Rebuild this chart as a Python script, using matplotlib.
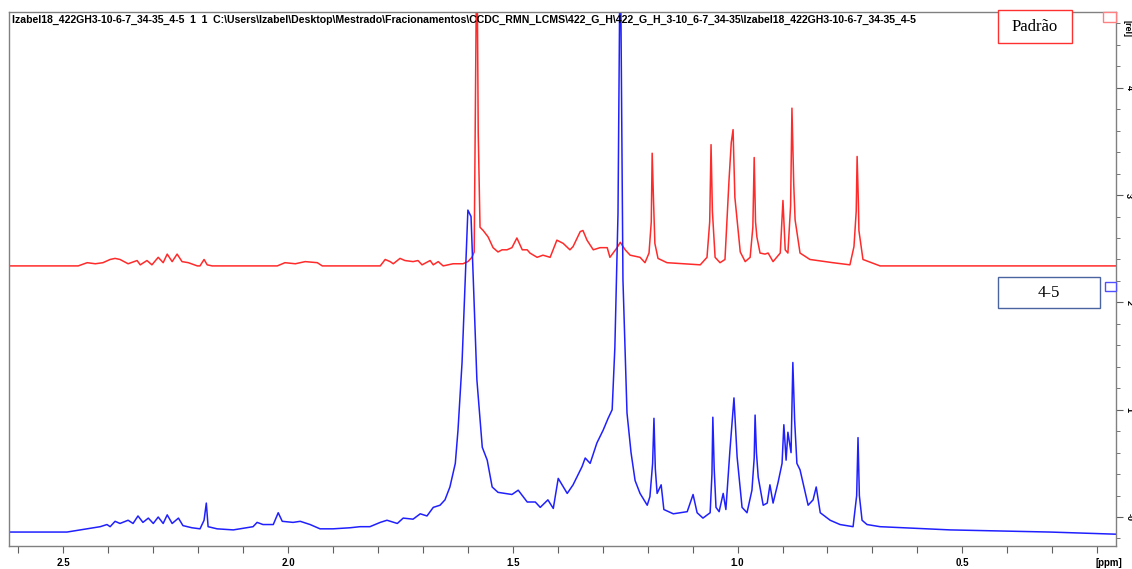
import matplotlib.pyplot as plt
import numpy as np
from matplotlib.patches import Rectangle

# Padrão (red, upper trace) - chemical shift (ppm) / relative intensity
red_ppm = [2.621, 2.467, 2.447, 2.429, 2.412, 2.396, 2.385, 2.374, 2.356, 2.336,
           2.329, 2.314, 2.303, 2.289, 2.278, 2.269, 2.258, 2.247, 2.236, 2.222,
           2.202, 2.196, 2.187, 2.180, 2.169, 2.024, 2.007, 1.984, 1.962, 1.935,
           1.924, 1.795, 1.784, 1.773, 1.766, 1.751, 1.740, 1.722, 1.711, 1.702,
           1.684, 1.677, 1.666, 1.655, 1.633, 1.611, 1.600, 1.591, 1.586, 1.580,
           1.577, 1.573, 1.566, 1.555, 1.544, 1.533, 1.524, 1.513, 1.502, 1.491,
           1.479, 1.468, 1.462, 1.446, 1.433, 1.417, 1.402, 1.388, 1.373, 1.366,
           1.350, 1.344, 1.335, 1.321, 1.306, 1.290, 1.284, 1.268, 1.261, 1.250,
           1.239, 1.228, 1.217, 1.206, 1.197, 1.192, 1.190, 1.187, 1.184, 1.177,
           1.157, 1.083, 1.068, 1.062, 1.059, 1.056, 1.050, 1.039, 1.028, 1.019,
           1.014, 1.010, 1.006, 0.994, 0.983, 0.972, 0.966, 0.963, 0.960, 0.957,
           0.950, 0.939, 0.932, 0.921, 0.905, 0.899, 0.894, 0.888, 0.882, 0.879,
           0.875, 0.872, 0.861, 0.839, 0.788, 0.750, 0.741, 0.736, 0.734, 0.731,
           0.730, 0.721, 0.683, 0.158]
red_rel = [2.34, 2.34, 2.37, 2.36, 2.37, 2.40, 2.41, 2.40, 2.36, 2.39,
           2.35, 2.39, 2.35, 2.42, 2.37, 2.45, 2.38, 2.45, 2.38, 2.37,
           2.34, 2.34, 2.40, 2.35, 2.34, 2.34, 2.37, 2.36, 2.38, 2.37,
           2.34, 2.34, 2.40, 2.38, 2.36, 2.41, 2.39, 2.38, 2.39, 2.35,
           2.39, 2.35, 2.38, 2.34, 2.36, 2.36, 2.38, 2.42, 2.47, 5.50,
           3.58, 2.70, 2.67, 2.61, 2.51, 2.47, 2.49, 2.49, 2.51, 2.60,
           2.49, 2.49, 2.46, 2.42, 2.44, 2.42, 2.58, 2.55, 2.49, 2.52,
           2.66, 2.67, 2.58, 2.49, 2.51, 2.51, 2.42, 2.51, 2.56, 2.49,
           2.44, 2.43, 2.42, 2.37, 2.46, 2.75, 3.39, 2.95, 2.55, 2.41,
           2.37, 2.35, 2.42, 2.75, 3.47, 2.85, 2.42, 2.37, 2.40, 3.14,
           3.49, 3.61, 2.98, 2.47, 2.38, 2.42, 2.70, 3.35, 2.75, 2.61,
           2.46, 2.45, 2.46, 2.38, 2.46, 2.95, 2.49, 2.46, 2.90, 3.81,
           3.10, 2.77, 2.46, 2.40, 2.37, 2.35, 2.52, 2.85, 3.36, 2.90,
           2.67, 2.40, 2.34, 2.34]

# 4-5 fraction (blue, lower trace)
blue_ppm = [2.621, 2.492, 2.463, 2.418, 2.403, 2.396, 2.385, 2.374, 2.356, 2.345,
            2.334, 2.323, 2.311, 2.300, 2.289, 2.278, 2.269, 2.258, 2.244, 2.234,
            2.214, 2.196, 2.187, 2.182, 2.178, 2.158, 2.122, 2.078, 2.069, 2.056,
            2.033, 2.022, 2.013, 1.989, 1.973, 1.951, 1.929, 1.900, 1.862, 1.840,
            1.818, 1.795, 1.780, 1.757, 1.744, 1.722, 1.706, 1.691, 1.677, 1.662,
            1.651, 1.640, 1.628, 1.622, 1.613, 1.606, 1.600, 1.593, 1.588, 1.580,
            1.568, 1.557, 1.546, 1.533, 1.517, 1.502, 1.488, 1.468, 1.450, 1.439,
            1.422, 1.410, 1.399, 1.379, 1.366, 1.346, 1.339, 1.328, 1.313, 1.299,
            1.288, 1.279, 1.273, 1.266, 1.261, 1.255, 1.246, 1.237, 1.228, 1.217,
            1.201, 1.195, 1.189, 1.186, 1.183, 1.179, 1.170, 1.164, 1.143, 1.112,
            1.099, 1.090, 1.077, 1.061, 1.057, 1.055, 1.052, 1.048, 1.041, 1.032,
            1.026, 1.017, 1.010, 1.008, 1.001, 0.990, 0.979, 0.968, 0.963, 0.961,
            0.958, 0.954, 0.943, 0.934, 0.928, 0.921, 0.910, 0.901, 0.897, 0.892,
            0.888, 0.881, 0.877, 0.873, 0.868, 0.861, 0.843, 0.832, 0.825, 0.816,
            0.794, 0.772, 0.743, 0.735, 0.732, 0.729, 0.723, 0.712, 0.683, 0.527,
            0.305, 0.158]
blue_rel = [-0.14, -0.14, -0.12, -0.09, -0.07, -0.09, -0.04, -0.06, -0.03, -0.06,
            0.01, -0.05, -0.01, -0.06, 0.00, -0.06, 0.02, -0.06, -0.01, -0.08,
            -0.10, -0.11, -0.03, 0.13, -0.09, -0.11, -0.12, -0.09, -0.05, -0.07,
            -0.07, 0.04, -0.04, -0.05, -0.04, -0.07, -0.11, -0.11, -0.10, -0.09,
            -0.09, -0.05, -0.03, -0.06, -0.01, -0.02, 0.03, 0.01, 0.09, 0.11,
            0.16, 0.28, 0.50, 0.81, 1.44, 2.21, 2.86, 2.80, 2.21, 1.28,
            0.65, 0.53, 0.28, 0.23, 0.22, 0.21, 0.25, 0.14, 0.14, 0.09,
            0.16, 0.08, 0.36, 0.22, 0.30, 0.47, 0.55, 0.50, 0.69, 0.81,
            0.92, 1.00, 1.58, 2.83, 5.50, 2.21, 0.97, 0.60, 0.34, 0.22,
            0.11, 0.19, 0.50, 0.92, 0.45, 0.22, 0.30, 0.07, 0.03, 0.05,
            0.21, 0.04, -0.01, 0.04, 0.40, 0.93, 0.45, 0.09, 0.05, 0.22,
            0.07, 0.62, 1.00, 1.11, 0.56, 0.09, 0.04, 0.25, 0.55, 0.95,
            0.60, 0.37, 0.11, 0.13, 0.30, 0.13, 0.32, 0.50, 0.86, 0.53,
            0.79, 0.60, 1.44, 0.90, 0.50, 0.44, 0.11, 0.16, 0.28, 0.04,
            -0.03, -0.07, -0.09, 0.20, 0.74, 0.20, -0.03, -0.07, -0.09, -0.12,
            -0.14, -0.16]

x_labels = {2.5: "2.5", 2.0: "2.0", 1.5: "1.5", 1.0: "1.0", 0.5: "0.5"}
y_major = [0, 1, 2, 3, 4]
y_labels = ["-0", "1", "2", "3", "4"]

title = (r"Izabel18_422GH3-10-6-7_34-35_4-5  1  1  C:\Users\Izabel\Desktop\Mestrado"
         r"\Fracionamentos\CCDC_RMN_LCMS\422_G_H\422_G_H_3-10_6-7_34-35"
         r"\Izabel18_422GH3-10-6-7_34-35_4-5")

W, H = 1132, 569
fig = plt.figure(figsize=(W / 100, H / 100), dpi=100)
ax = fig.add_axes([9 / W, 1 - 546 / H, 1107 / W, 534 / H])

ax.plot(red_ppm, red_rel, color="#ff2a2a", lw=1.1)
ax.plot(blue_ppm, blue_rel, color="#2020ff", lw=1.1)
ax.set_xlim(2.621, 0.158)
ax.set_ylim(-0.27, 4.706)

for s in ax.spines.values():
    s.set_color("#808080")
    s.set_linewidth(1.0)

xt = np.round(np.arange(0.2, 2.65, 0.1), 1)
ax.set_xticks(xt, [x_labels.get(v, "") for v in xt])
ax.tick_params(axis="x", direction="out", length=5, color="#606060",
               labelsize=7, pad=4)
for lab in ax.get_xticklabels():
    lab.set_fontweight("bold")
    lab.set_family("Liberation Sans")

ax.yaxis.tick_right()
ax.set_yticks(y_major, y_labels)
ax.set_yticks(np.round(np.arange(-0.2, 4.7, 0.2), 1), minor=True)
ax.tick_params(axis="y", which="both", direction="out", color="#606060")
ax.tick_params(axis="y", which="major", length=5, labelsize=6.5, pad=1,
               labelrotation=-90)
ax.tick_params(axis="y", which="minor", length=3)
for lab in ax.get_yticklabels():
    lab.set_fontweight("bold")
    lab.set_family("Liberation Sans")
    lab.set_va("center")
    lab.set_ha("left")

ax.text(1.0055, 0.985, "[rel]", transform=ax.transAxes, rotation=-90,
        ha="left", va="top", fontsize=6.5, fontweight="bold",
        family="Liberation Sans")
ax.text(0.9935, -0.032, "[ppm]", transform=ax.transAxes, ha="center",
        va="center", fontsize=7, fontweight="bold", family="Liberation Sans")

fig.text(12 / W, 1 - 15 / H, title, ha="left", va="top", fontsize=7.6,
         fontweight="bold", family="Liberation Sans")


def box(x0, y0, x1, y1, color, lw=1.0):
    fig.patches.append(Rectangle((x0 / W, 1 - y1 / H), (x1 - x0) / W,
                                 (y1 - y0) / H, transform=fig.transFigure,
                                 fill=True, facecolor="white", edgecolor=color,
                                 lw=lw, zorder=5))


box(998, 10, 1072, 43, "#ff3030")
fig.text(1035 / W, 1 - 27 / H, "Padrão", ha="center", va="center",
         fontsize=12, family="Liberation Serif", zorder=6)
box(998, 277, 1100, 308, "#4a64a0")
fig.text(1049 / W, 1 - 293 / H, "4-5", ha="center", va="center",
         fontsize=12, family="Liberation Serif", zorder=6)
box(1103, 12, 1116, 22, "#ff8080")
box(1105, 282, 1116, 291, "#5050ff")

fig.savefig("out.png", dpi=100)
